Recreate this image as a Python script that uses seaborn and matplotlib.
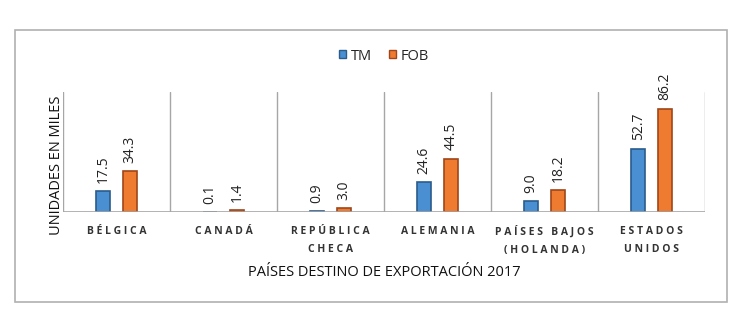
import pandas as pd
import numpy as np
import matplotlib
matplotlib.use("Agg")
import matplotlib.pyplot as plt
import seaborn as sns
from matplotlib.patches import Rectangle, Patch

paises = ["BÉLGICA", "CANADÁ", "REPÚBLICA\nCHECA", "ALEMANIA", "PAÍSES BAJOS\n(HOLANDA)", "ESTADOS\nUNIDOS"]
tm = [17.5, 0.1, 0.9, 24.6, 9.0, 52.7]
fob = [34.3, 1.4, 3.0, 44.5, 18.2, 86.2]
series = ["TM", "FOB"]
colores = ["#4a8fd2", "#ee7b30"]
bordes = ["#2b5c8c", "#a0461a"]

sns.set_style("white")
plt.rcParams['font.family'] = ['Open Sans', 'DejaVu Sans']


def espaciado(txt):
    # letter spacing like the original labels
    lineas = []
    for linea in txt.split("\n"):
        palabras = [" ".join(list(p)) for p in linea.split(" ")]
        lineas.append("   ".join(palabras))
    return "\n".join(lineas)


df = pd.DataFrame({
    "pais": paises * 2,
    "serie": ["TM"] * len(paises) + ["FOB"] * len(paises),
    "valor": tm + fob,
})

fig = plt.figure(figsize=(7.43, 3.35), dpi=100)
ax = fig.add_axes([63 / 743, 1 - 212 / 335, (705 - 63) / 743, 120 / 335])

sns.barplot(data=df, x="pais", y="valor", hue="serie", hue_order=series,
            palette=colores, saturation=1, width=0.5, gap=0.45, ax=ax, legend=False)

for i, cont in enumerate(ax.containers):
    for bar in cont:
        bar.set_edgecolor(bordes[i])
        bar.set_linewidth(1.2)
    ax.bar_label(cont, fmt="%.1f", rotation=90, padding=6, fontsize=10, color="#222222")

ax.set_ylim(0, 100)
ax.set_xlim(-0.5, len(paises) - 0.5)
for k in range(len(paises) + 1):
    ax.axvline(k - 0.5, color="#a6a6a6", lw=1, zorder=0)
ax.axhline(0, color="#a6a6a6", lw=1.2)
sns.despine(ax=ax, left=True, bottom=True, top=True, right=True)
ax.set_yticks([])
ax.set_xticks(range(len(paises)))
ax.set_xticklabels([espaciado(p) for p in paises], fontsize=7.5, fontweight="bold",
                   color="#333333", linespacing=1.9)
ax.tick_params(axis="x", length=0, pad=10)
ax.set_xlabel("PAÍSES DESTINO DE EXPORTACIÓN 2017", fontsize=10.5, labelpad=6, color="#111111")
ax.set_ylabel("")
fig.text(57 / 743, 1 - 165 / 335, "UNIDADES EN MILES", rotation=90, ha="center", va="center",
         fontsize=10.5, color="#111111")

handles = [Patch(facecolor=colores[i], edgecolor=bordes[i], label=series[i]) for i in range(2)]
fig.legend(handles=handles, loc="center", bbox_to_anchor=(384 / 743, 1 - 56 / 335), ncol=2,
           frameon=False, fontsize=10.5, handlelength=0.5, handleheight=0.5,
           handletextpad=0.3, columnspacing=1.2)

fig.patches.append(Rectangle((15 / 743, 1 - 302 / 335), (727 - 15) / 743, (302 - 30) / 335,
                             transform=fig.transFigure, fill=False, edgecolor="#b0b0b0", lw=1.2))

fig.savefig("out.png", dpi=100)
